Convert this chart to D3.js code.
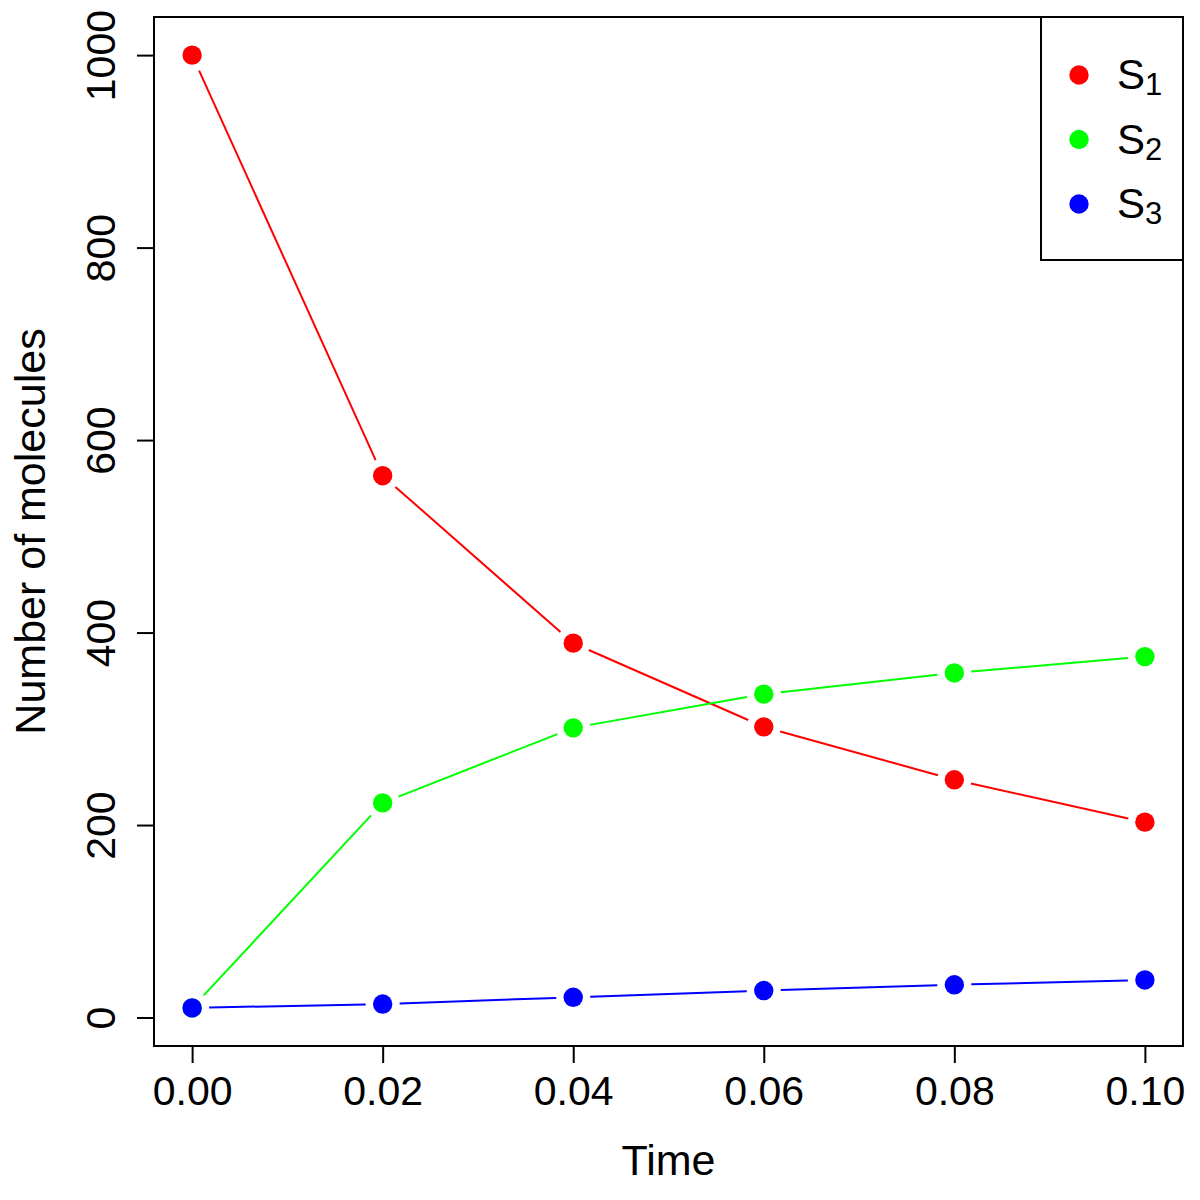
<!DOCTYPE html>
<html>
<head>
<meta charset="utf-8">
<script src="https://cdn.jsdelivr.net/npm/d3@7"></script>
<style>
  body { margin: 0; background: #fff; }
  text { font-family: "Liberation Sans", Arial, Helvetica, sans-serif; fill: #000; }
</style>
</head>
<body>
<svg id="chart" width="1200" height="1200"></svg>
<script>
// values
const times = [0.00, 0.02, 0.04, 0.06, 0.08, 0.10];
const s1 = [1000, 563, 389, 302, 247, 203];
const s2 = [10, 223, 301, 336, 358, 375];
const s3 = [10, 14, 21, 28, 34, 39];
const xTicks = [0.00, 0.02, 0.04, 0.06, 0.08, 0.10];
const yTicks = [0, 200, 400, 600, 800, 1000];
const seriesNames = ['1', '2', '3'];
const seriesColors = ['#ff0000', '#00ff00', '#0000ff'];

const box = {left: 154, right: 1183, top: 17, bottom: 1046};
const svg = d3.select('#chart');

const x = d3.scaleLinear().domain([-0.004, 0.104]).range([box.left, box.right]);
const y = d3.scaleLinear().domain([-29.6, 1039.6]).range([box.bottom, box.top]);

/* axes in the R base style: ticks outside, long, no domain line */
const xAxis = svg.append('g')
    .attr('transform', `translate(0,${box.bottom})`)
    .call(d3.axisBottom(x).tickValues(xTicks).tickFormat(d3.format('.2f')).tickSize(17).tickPadding(13));
xAxis.select('.domain').remove();
xAxis.selectAll('line').attr('stroke', '#000').attr('stroke-width', 2);
xAxis.selectAll('text').attr('font-size', 41).attr('fill', '#000')
    .attr('font-family', '"Liberation Sans", Arial, sans-serif');

const yAxis = svg.append('g')
    .attr('transform', `translate(${box.left},0)`)
    .call(d3.axisLeft(y).tickValues(yTicks).tickSize(17).tickFormat(d3.format('d')));
yAxis.select('.domain').remove();
yAxis.selectAll('line').attr('stroke', '#000').attr('stroke-width', 2);
yAxis.selectAll('text')
    .attr('font-size', 41).attr('fill', '#000')
    .attr('font-family', '"Liberation Sans", Arial, sans-serif')
    .attr('x', null).attr('dy', null)
    .attr('text-anchor', 'middle')
    .attr('transform', 'translate(-39,0) rotate(-90)');

svg.append('rect')
    .attr('x', box.left).attr('y', box.top)
    .attr('width', box.right - box.left).attr('height', box.bottom - box.top)
    .attr('fill', 'none').attr('stroke', '#000').attr('stroke-width', 2);

svg.append('text')
    .attr('x', (box.left + box.right) / 2).attr('y', 1175)
    .attr('text-anchor', 'middle').attr('font-size', 43)
    .text('Time');

svg.append('text')
    .attr('transform', `translate(45,${(box.top + box.bottom) / 2}) rotate(-90)`)
    .attr('text-anchor', 'middle').attr('font-size', 43)
    .text('Number of molecules');

/* type="b" in R: line segments that stop short of each point */
const GAP = 17, R = 9.7;
const allSeries = [s1, s2, s3];
allSeries.forEach((vals, k) => {
    const pts = times.map((t, i) => [x(t), y(vals[i])]);
    const g = svg.append('g');
    for (let i = 0; i < pts.length - 1; i++) {
        let [x0, y0] = pts[i], [x1, y1] = pts[i + 1];
        let dx = x1 - x0, dy = y1 - y0, len = Math.hypot(dx, dy);
        if (len <= 2 * GAP) continue;
        let ux = dx / len, uy = dy / len;
        g.append('line')
            .attr('x1', x0 + ux * GAP).attr('y1', y0 + uy * GAP)
            .attr('x2', x1 - ux * GAP).attr('y2', y1 - uy * GAP)
            .attr('stroke', seriesColors[k]).attr('stroke-width', 2);
    }
    g.selectAll('circle').data(pts).join('circle')
        .attr('cx', d => d[0]).attr('cy', d => d[1]).attr('r', R)
        .attr('fill', seriesColors[k]);
});

// legend
const legend = svg.append('g');
legend.append('rect')
    .attr('x', 1041).attr('y', box.top)
    .attr('width', box.right - 1041).attr('height', 260 - box.top)
    .attr('fill', '#fff').attr('stroke', '#000').attr('stroke-width', 2);
seriesNames.forEach((n, i) => {
    const cy = 75 + i * 64.5;
    legend.append('circle').attr('cx', 1079).attr('cy', cy).attr('r', R)
        .attr('fill', seriesColors[i]);
    const t = legend.append('text').attr('x', 1117).attr('y', cy + 14).attr('font-size', 42);
    t.append('tspan').text('S');
    t.append('tspan').attr('font-size', 31).attr('dy', 6).text(n);
});
</script>
</body>
</html>
